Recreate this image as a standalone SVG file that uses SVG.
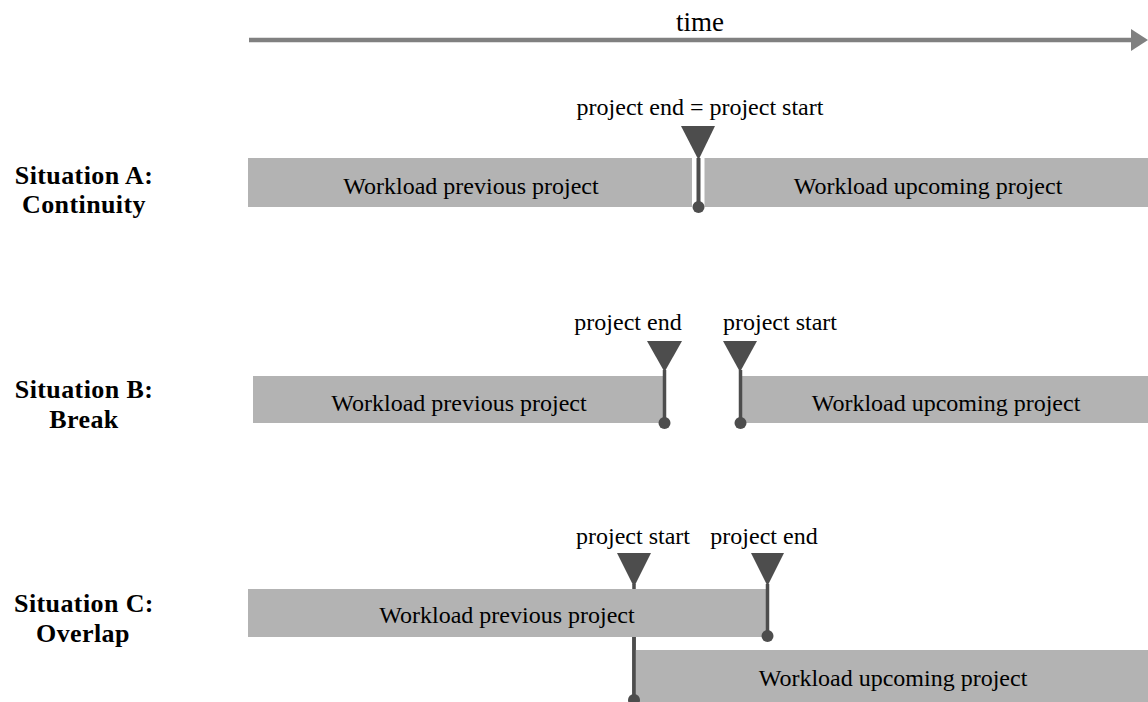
<svg xmlns="http://www.w3.org/2000/svg" width="1148" height="702" viewBox="0 0 1148 702">
  <style>
    .bar { fill: #b3b3b3; }
    .mk { fill: #4d4d4d; }
    .ml { stroke: #4d4d4d; stroke-width: 3.5; fill: none; }
    .t { font-family: "Liberation Serif", "Times New Roman", serif; font-size: 24px; fill: #000; text-anchor: middle; }
    .lb { font-family: "Liberation Serif", "Times New Roman", serif; font-size: 26px; font-weight: bold; fill: #000; text-anchor: middle; letter-spacing: 0.4px; }
  </style>
  <rect width="1148" height="702" fill="#fff"/>

  <g id="time-axis">
    <line x1="249" y1="40" x2="1134" y2="40" stroke="#808080" stroke-width="4.5"/>
    <polygon points="1131,29 1148,40 1131,51" fill="#808080"/>
    <text class="t" x="700" y="31" style="font-size:27px">time</text>
  </g>

  <g id="labels">
    <text class="lb" x="84" y="184">Situation A:</text>
    <text class="lb" x="84" y="213">Continuity</text>
    <text class="lb" x="84" y="398">Situation B:</text>
    <text class="lb" x="84" y="428">Break</text>
    <text class="lb" x="84" y="612">Situation C:</text>
    <text class="lb" x="83" y="642">Overlap</text>
  </g>

  <g id="connectors-under">
    <line class="ml" x1="634" y1="584" x2="634" y2="700"/>
  </g>

  <g id="situation-a">
    <g id="a-prev">
      <rect class="bar" x="248" y="158" width="444" height="49"/>
      <text class="t" x="471" y="194">Workload previous project</text>
    </g>
    <g id="a-next">
      <rect class="bar" x="704" y="158" width="444" height="49"/>
      <text class="t" x="928" y="194">Workload upcoming project</text>
    </g>
  </g>

  <g id="situation-b">
    <g id="b-prev">
      <rect class="bar" x="253" y="376" width="412" height="47"/>
      <text class="t" x="459" y="411">Workload previous project</text>
    </g>
    <g id="b-next">
      <rect class="bar" x="741" y="376" width="407" height="47"/>
      <text class="t" x="946" y="411">Workload upcoming project</text>
    </g>
  </g>

  <g id="situation-c">
    <g id="c-prev">
      <rect class="bar" x="248" y="589" width="519" height="48"/>
      <text class="t" x="507" y="623">Workload previous project</text>
    </g>
    <g id="c-next">
      <rect class="bar" x="635" y="650" width="513" height="52"/>
      <text class="t" x="893" y="686">Workload upcoming project</text>
    </g>
  </g>

  <g id="connectors">
    <g id="a-marker">
      <text class="t" x="700" y="115">project end = project start</text>
      <line x1="698.5" y1="155" x2="698.5" y2="207" stroke="#fff" stroke-width="12"/>
      <polygon class="mk" points="681,126 715,126 698.5,160"/>
      <line class="ml" x1="698.5" y1="158" x2="698.5" y2="207" style="stroke-width:4"/>
      <circle class="mk" cx="698.5" cy="207" r="6"/>
    </g>
    <g id="b-end">
      <text class="t" x="628" y="330">project end</text>
      <polygon class="mk" points="647,341 682,341 664.5,372"/>
      <line class="ml" x1="664.5" y1="370" x2="664.5" y2="423"/>
      <circle class="mk" cx="664.5" cy="423" r="6"/>
    </g>
    <g id="b-start">
      <text class="t" x="780" y="330">project start</text>
      <polygon class="mk" points="723,341 757,341 740,372"/>
      <line class="ml" x1="740.5" y1="370" x2="740.5" y2="423"/>
      <circle class="mk" cx="740.5" cy="423" r="6"/>
    </g>
    <g id="c-start">
      <text class="t" x="633" y="544">project start</text>
      <polygon class="mk" points="617,553 651,553 634,587"/>
      <line class="ml" x1="634" y1="637" x2="634" y2="700"/>
      <circle class="mk" cx="634" cy="700" r="6"/>
    </g>
    <g id="c-end">
      <text class="t" x="764" y="544">project end</text>
      <polygon class="mk" points="751,553 784,553 767.5,586"/>
      <line class="ml" x1="767.5" y1="584" x2="767.5" y2="636"/>
      <circle class="mk" cx="767.5" cy="636" r="6"/>
    </g>
  </g>
</svg>
